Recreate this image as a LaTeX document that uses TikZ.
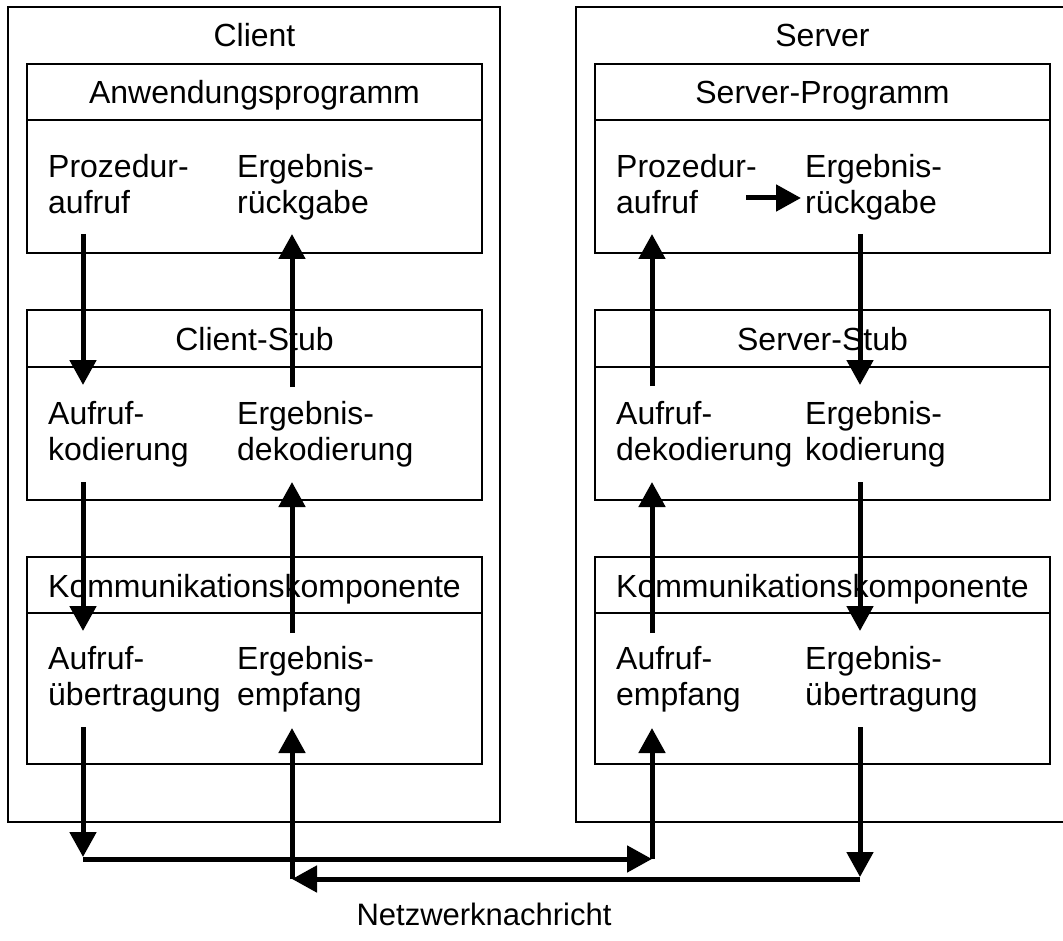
\documentclass[tikz,border=0pt]{standalone}
\usepackage{fontspec}
\setmainfont{Liberation Sans}
\usetikzlibrary{arrows.meta}
\begin{document}
\begin{tikzpicture}[x=1pt,y=-1pt,
  frame/.style={draw=black, line width=1.8pt},
  lbl/.style={anchor=base west, inner sep=0pt, font=\fontsize{32}{36}\selectfont},
  ttl/.style={anchor=base, inner sep=0pt, font=\fontsize{32}{36}\selectfont},
  flow/.style={line width=5pt, -{Triangle[length=25pt,width=26pt]}}]
\useasboundingbox (0,0) rectangle (1063,941);
\clip (0,0) rectangle (1063,941);

% ---------------- client side ----------------
\begin{scope}
  \draw[frame] (8,7) rectangle (500,822);
  \node[ttl] (c-title) at (254.5,47) {Client};
  % layer frames
  \draw[frame] (27,64) rectangle (482,253);  \draw[frame] (27,120) -- (482,120);
  \draw[frame] (27,310) rectangle (482,500); \draw[frame] (27,367) -- (482,367);
  \draw[frame] (27,557) rectangle (482,764); \draw[frame] (27,613) -- (482,613);
  % layer titles
  \node[ttl] (c-h1) at (254.5,104) {Anwendungsprogramm};
  \node[ttl] (c-h2) at (254.5,351) {Client-Stub};
  \node[ttl] (c-h3) at (254.5,597) {Kommunikationskomponente};
  % layer texts
  \node[lbl] (c-1a) at (48,178) {Prozedur-};
  \node[lbl] (c-1b) at (48,214) {aufruf};
  \node[lbl] (c-1c) at (237,178) {Ergebnis-};
  \node[lbl] (c-1d) at (237,214) {rückgabe};
  \node[lbl] (c-2a) at (48,424) {Aufruf-};
  \node[lbl] (c-2b) at (48,460) {kodierung};
  \node[lbl] (c-2c) at (237,424) {Ergebnis-};
  \node[lbl] (c-2d) at (237,460) {dekodierung};
  \node[lbl] (c-3a) at (48,669) {Aufruf-};
  \node[lbl] (c-3b) at (48,705) {übertragung};
  \node[lbl] (c-3c) at (237,669) {Ergebnis-};
  \node[lbl] (c-3d) at (237,705) {empfang};
  % connector ends, call column
  \coordinate (cL-1) at (83,234);
  \coordinate (cL-2) at (83,385);
  \coordinate (cL-3) at (83,482);
  \coordinate (cL-4) at (83,631);
  \coordinate (cL-5) at (83,727);
  \coordinate (cL-6) at (83,857);
  \coordinate (cL-7) at (83,859);
  % connector ends, result column
  \coordinate (cR-1) at (292,234);
  \coordinate (cR-2) at (292,387);
  \coordinate (cR-3) at (292,482);
  \coordinate (cR-4) at (292,633);
  \coordinate (cR-5) at (292,728);
  \coordinate (cR-6) at (292,879);
\end{scope}

% ---------------- server side ----------------
\begin{scope}[xshift=568pt]
  \draw[frame] (8,7) rectangle (510,822);
  \node[ttl] (s-title) at (254.5,47) {Server};
  \draw[frame] (27,64) rectangle (482,253);  \draw[frame] (27,120) -- (482,120);
  \draw[frame] (27,310) rectangle (482,500); \draw[frame] (27,367) -- (482,367);
  \draw[frame] (27,557) rectangle (482,764); \draw[frame] (27,613) -- (482,613);
  \node[ttl] (s-h1) at (254.5,104) {Server-Programm};
  \node[ttl] (s-h2) at (254.5,351) {Server-Stub};
  \node[ttl] (s-h3) at (254.5,597) {Kommunikationskomponente};
  \node[lbl] (s-1a) at (48,178) {Prozedur-};
  \node[lbl] (s-1b) at (48,214) {aufruf};
  \node[lbl] (s-1c) at (237,178) {Ergebnis-};
  \node[lbl] (s-1d) at (237,214) {rückgabe};
  \node[lbl] (s-2a) at (48,424) {Aufruf-};
  \node[lbl] (s-2b) at (48,460) {dekodierung};
  \node[lbl] (s-2c) at (237,424) {Ergebnis-};
  \node[lbl] (s-2d) at (237,460) {kodierung};
  \node[lbl] (s-3a) at (48,669) {Aufruf-};
  \node[lbl] (s-3b) at (48,705) {empfang};
  \node[lbl] (s-3c) at (237,669) {Ergebnis-};
  \node[lbl] (s-3d) at (237,705) {übertragung};
  % call column
  \coordinate (sL-1) at (84,234);
  \coordinate (sL-2) at (84,386);
  \coordinate (sL-3) at (84,482);
  \coordinate (sL-4) at (84,633);
  \coordinate (sL-5) at (84,728);
  \coordinate (sL-6) at (84,859);
  % result column
  \coordinate (sR-1) at (292,234);
  \coordinate (sR-2) at (292,385);
  \coordinate (sR-3) at (292,482);
  \coordinate (sR-4) at (292,631);
  \coordinate (sR-5) at (292,727);
  \coordinate (sR-6) at (292,877);
  \coordinate (sR-7) at (292,879);
  % procedure call hands over to result return
  \coordinate (s-call) at (178,198);
  \coordinate (s-ret) at (233,198);
\end{scope}

% ---------------- request path ----------------
\draw[flow] (cL-1) -- (cL-2);
\draw[flow] (cL-3) -- (cL-4);
\draw[flow] (cL-5) -- (cL-6);
\draw[flow] (cL-7) -- (sL-6);
\draw[flow] (sL-6) -- (sL-5);
\draw[flow] (sL-4) -- (sL-3);
\draw[flow] (sL-2) -- (sL-1);
\draw[flow] (s-call) -- (s-ret);

% ---------------- reply path ----------------
\draw[flow] (sR-1) -- (sR-2);
\draw[flow] (sR-3) -- (sR-4);
\draw[flow] (sR-5) -- (sR-6);
\draw[flow] (sR-7) -- (cR-6);
\draw[flow] (cR-6) -- (cR-5);
\draw[flow] (cR-4) -- (cR-3);
\draw[flow] (cR-2) -- (cR-1);

\node[ttl, font=\fontsize{31}{36}\selectfont] (net) at (484,925) {Netzwerknachricht};
\end{tikzpicture}
\end{document}
